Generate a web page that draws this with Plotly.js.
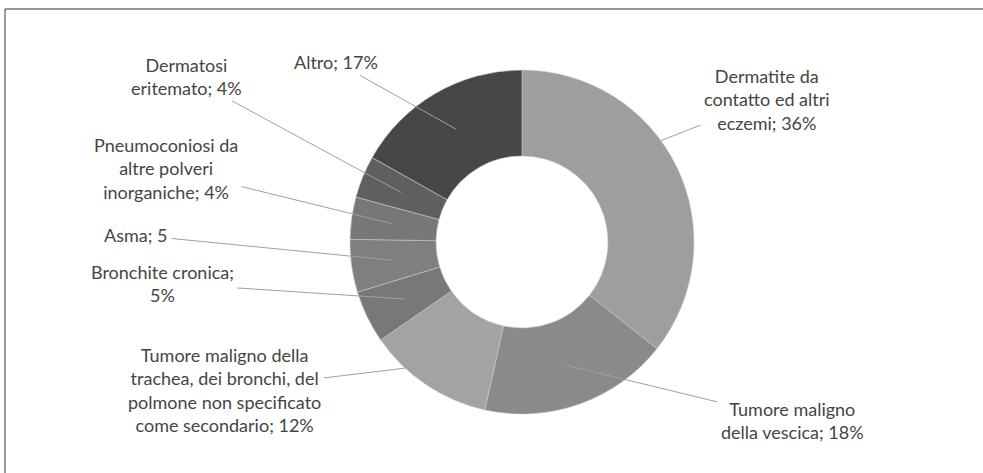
<!DOCTYPE html>
<html>
<head>
<meta charset="utf-8">
<script src="https://cdn.plot.ly/plotly-3.0.1.min.js"></script>
<style>html,body{margin:0;padding:0;background:#fff;}#chart{width:983px;height:473px;}</style>
</head>
<body>
<div id="chart"></div>
<script>
// Data
const categories = [
  'Dermatite da contatto ed altri eczemi',
  'Tumore maligno della vescica',
  'Tumore maligno della trachea, dei bronchi, del polmone non specificato come secondario',
  'Bronchite cronica',
  'Asma',
  'Pneumoconiosi da altre polveri inorganiche',
  'Dermatosi eritemato',
  'Altro'
];
const values = [36, 18, 12, 5, 5, 4, 4, 17];
const labelTexts = [
  'Dermatite da<br>contatto ed altri<br>eczemi; 36%',
  'Tumore maligno<br>della vescica; 18%',
  'Tumore maligno della<br>trachea, dei bronchi, del<br>polmone non specificato<br>come secondario; 12%',
  'Bronchite cronica;<br>5%',
  'Asma; 5',
  'Pneumoconiosi da<br>altre polveri<br>inorganiche; 4%',
  'Dermatosi<br>eritemato; 4%',
  'Altro; 17%'
];

// Styling / layout
const colors = ['#9e9e9e', '#8a8a8a', '#a3a3a3', '#787878', '#7f7f7f', '#777777', '#5f5f5f', '#474747'];
const W = 983, H = 473;
const cx = 522, cy = 242, R = 172;
const labelPos = [[767, 99], [792, 420], [224, 390], [162, 283], [136, 235], [166, 168], [186, 76], [336, 62]];
const headR = [1.0, 0.76, 1.0, 0.76, 0.76, 0.76, 0.76, 0.76];
const headFrac = [0.42, 0.5, 0.71, 0.5, 0.5, 0.5, 0.5, 0.5];

const total = values.reduce((a, b) => a + b, 0);
let cum = 0;
const annotations = values.map((v, i) => {
  const ang = (cum + v * headFrac[i]) / total * 2 * Math.PI;
  cum += v;
  const hx = cx + headR[i] * R * Math.sin(ang);
  const hy = cy - headR[i] * R * Math.cos(ang);
  return {
    x: hx / W, y: 1 - hy / H, xref: 'paper', yref: 'paper',
    ax: labelPos[i][0] - hx, ay: labelPos[i][1] - hy,
    text: labelTexts[i], showarrow: true, arrowhead: 0, arrowwidth: 1,
    arrowcolor: '#a0a0a0', standoff: 0, startstandoff: 2,
    font: {family: 'Lato, Carlito, sans-serif', size: 18, color: '#454545'},
    align: 'center'
  };
});

const trace = {
  type: 'pie',
  labels: categories,
  values: values,
  sort: false,
  direction: 'clockwise',
  rotation: 0,
  hole: 0.5,
  textinfo: 'none',
  hoverinfo: 'none',
  showlegend: false,
  marker: {colors: colors, line: {color: 'rgba(200,200,200,0.6)', width: 1}},
  domain: {x: [(cx - R) / W, (cx + R) / W], y: [1 - (cy + R) / H, 1 - (cy - R) / H]}
};

const layout = {
  width: W, height: H,
  margin: {l: 0, r: 0, t: 0, b: 0},
  paper_bgcolor: '#ffffff',
  showlegend: false,
  annotations: annotations,
  shapes: [{
    type: 'rect', xref: 'paper', yref: 'paper',
    x0: 5 / W, x1: 1.02, y0: -0.02, y1: 1 - 9 / H,
    line: {color: '#333333', width: 1}
  }]
};

Plotly.newPlot('chart', [trace], layout, {displayModeBar: false, staticPlot: true});
</script>
</body>
</html>
